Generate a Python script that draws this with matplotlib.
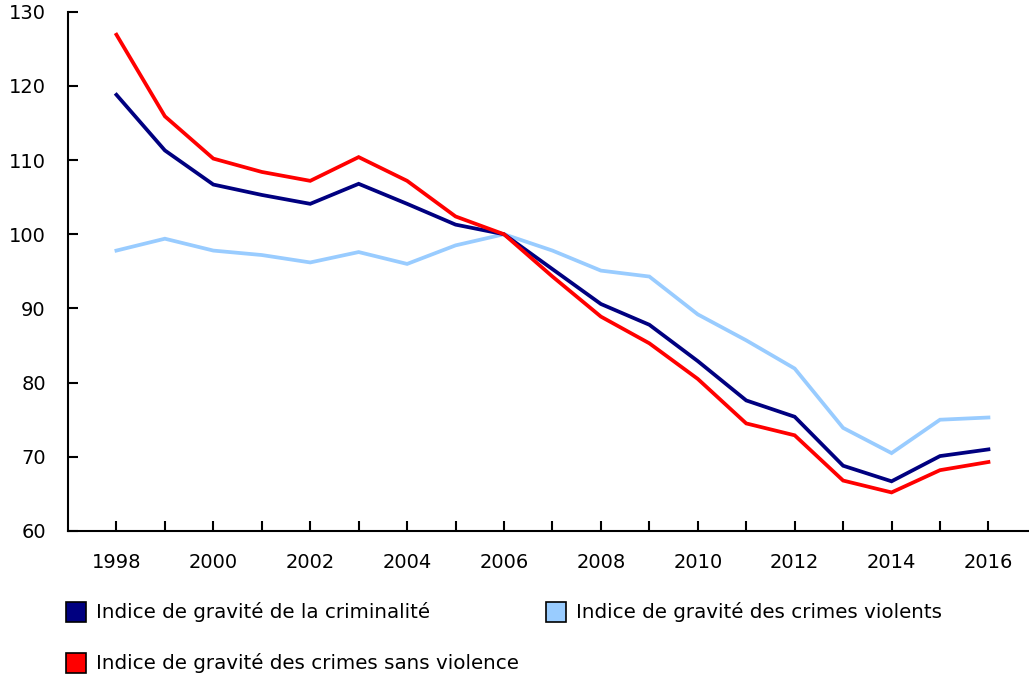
import matplotlib
matplotlib.use("Agg")
import matplotlib.pyplot as plt
from matplotlib.patches import Rectangle

years = list(range(1998, 2017))
crime_index = [118.8, 111.3, 106.7, 105.3, 104.1, 106.8, 104.1, 101.3, 100.0, 95.3,
               90.6, 87.8, 82.9, 77.6, 75.4, 68.8, 66.7, 70.1, 71.0]
violent_index = [97.8, 99.4, 97.8, 97.2, 96.2, 97.6, 96.0, 98.5, 100.0, 97.8,
                 95.1, 94.3, 89.2, 85.7, 81.9, 73.9, 70.5, 75.0, 75.3]
nonviolent_index = [126.9, 115.9, 110.2, 108.4, 107.2, 110.4, 107.2, 102.4, 100.0, 94.3,
                    88.9, 85.3, 80.5, 74.5, 72.9, 66.8, 65.2, 68.2, 69.3]
labels = ["Indice de gravité de la criminalité",
          "Indice de gravité des crimes violents",
          "Indice de gravité des crimes sans violence"]
colors = ["#000080", "#99CCFF", "#FF0000"]
yticks = [60, 70, 80, 90, 100, 110, 120, 130]

plt.rcParams['font.family'] = ['DejaVu Sans']
W, H = 1029, 676
fig = plt.figure(figsize=(W / 100, H / 100), dpi=100)
ax_left, ax_right, ax_top, ax_bot = 68, 1029, 11.7, 531
ax = fig.add_axes([ax_left / W, 1 - ax_bot / H, (ax_right - ax_left) / W, (ax_bot - ax_top) / H])

ax.plot(years, violent_index, color=colors[1], lw=2.7, solid_joinstyle='miter', zorder=2)
ax.plot(years, crime_index, color=colors[0], lw=2.7, solid_joinstyle='miter', zorder=3)
ax.plot(years, nonviolent_index, color=colors[2], lw=2.7, solid_joinstyle='miter', zorder=4)

px_per_year = (988 - 116) / 18
ax.set_xlim(1997, 1997 + (ax_right - ax_left) / px_per_year)
ax.set_ylim(60, 130)
ax.set_yticks(yticks)
ax.set_xticks(years)
ax.set_xticklabels([str(y) if (y % 2 == 0) else "" for y in years])
for s in ['top', 'right']:
    ax.spines[s].set_visible(False)
for s in ['left', 'bottom']:
    ax.spines[s].set_linewidth(1.5)
ax.tick_params(axis='both', direction='in', length=7.5, width=1.5, labelsize=14)
ax.tick_params(axis='y', pad=16)
ax.tick_params(axis='x', pad=16)

entries = [(0, 66, 602), (1, 546, 602), (2, 66, 653)]
for idx, x0, y0 in entries:
    r = Rectangle((x0 / W, 1 - (y0 + 20) / H), 20 / W, 20 / H, transform=fig.transFigure,
                  facecolor=colors[idx], edgecolor='black', lw=1.2)
    fig.patches.append(r)
    fig.text((x0 + 30) / W, 1 - (y0 + 10) / H, labels[idx], fontsize=14.3,
             va='center', ha='left')

fig.savefig("out.png", dpi=100)
